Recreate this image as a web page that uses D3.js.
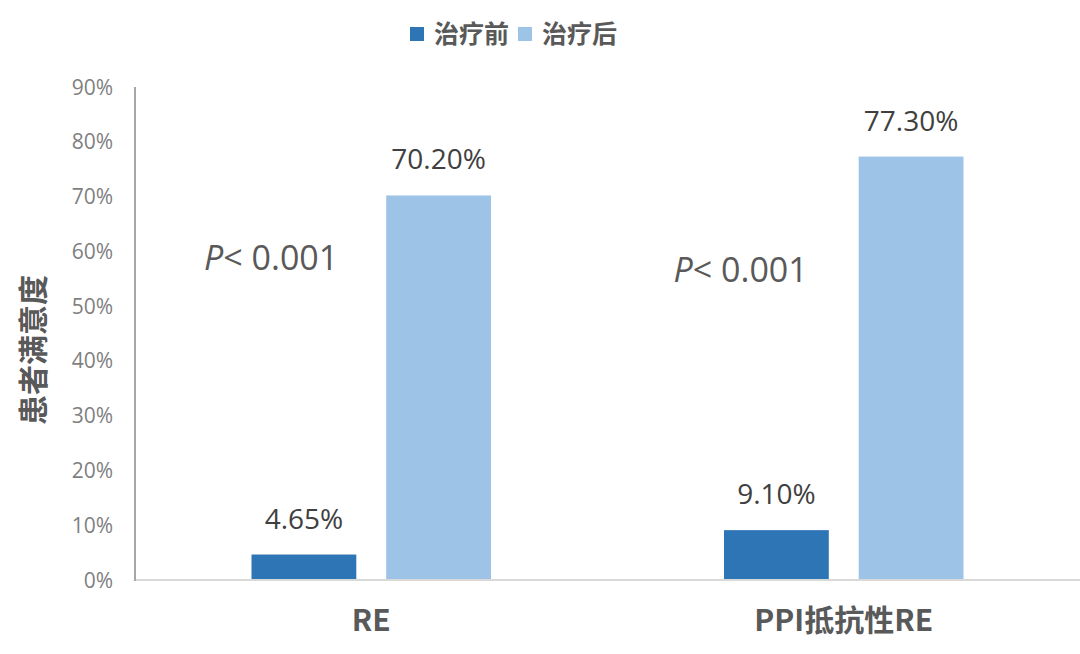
<!DOCTYPE html>
<html lang="zh">
<head>
    <meta charset="UTF-8">
    <title>患者满意度</title>
    <script src="https://d3js.org/d3.v7.min.js"></script>
    <style>
        body { margin: 0; background: #fff; }
        svg { display: block; }
        .tick-label { font-family: "Open Sans", sans-serif; font-size: 21px; fill: #7f7f7f; }
        .value-label { font-family: "Open Sans", sans-serif; font-size: 28px; fill: #404040; }
        .p-label { font-family: "Open Sans", sans-serif; font-size: 34px; fill: #595959; }
        .cat-label { font-family: "Noto Sans CJK SC", sans-serif; font-size: 30px; font-weight: bold; fill: #595959; }
        .legend-label { font-family: "Noto Sans CJK SC", sans-serif; font-size: 25px; font-weight: bold; fill: #595959; }
        .y-title { font-family: "Noto Sans CJK SC", sans-serif; font-size: 30px; font-weight: bold; fill: #595959; }
    </style>
</head>
<body>
<svg id="chart" width="1080" height="654"></svg>
<script>
    // data
    const categories = ['RE', 'PPI抵抗性RE']
    const seriesNames = ['治疗前', '治疗后']
    const before = [0.0465, 0.091]
    const after = [0.702, 0.773]
    const yTicks = [0, 0.1, 0.2, 0.3, 0.4, 0.5, 0.6, 0.7, 0.8, 0.9]
    const pTexts = ['< 0.001', '< 0.001']
    const pLevels = [0.566, 0.544]   // where the P annotations sit on the y scale

    const colors = ['#2e75b6', '#9dc3e6']
    const svg = d3.select('#chart')

    const plotLeft = 135, plotRight = 1080, plotTop = 87, plotBottom = 580

    let x0 = d3.scaleBand().domain(categories).range([plotLeft, plotRight])
    let x1 = d3.scaleBand().domain(seriesNames).range([0, x0.bandwidth()])
        .paddingInner(0.222).paddingOuter(0.865)
    let y = d3.scaleLinear().domain([0, 0.9]).range([plotBottom, plotTop])
    let color = d3.scaleOrdinal().domain(seriesNames).range(colors)

    let rows = categories.map((c, i) => ({cat: c, values: [before[i], after[i]]}))

    // y tick labels
    svg.append('g').selectAll('text')
        .data(yTicks)
        .enter()
        .append('text')
        .attr('class', 'tick-label')
        .attr('x', plotLeft - 22)
        .attr('y', d => y(d))
        .attr('dy', '0.36em')
        .attr('text-anchor', 'end')
        .text(d3.format('.0%'))

    // axis lines
    svg.append('line')
        .attr('x1', plotLeft).attr('x2', plotRight)
        .attr('y1', y(0)).attr('y2', y(0))
        .attr('stroke', '#d9d9d9').attr('stroke-width', 2)
    svg.append('line')
        .attr('x1', plotLeft).attr('x2', plotLeft)
        .attr('y1', y(0.9)).attr('y2', y(0) + 1)
        .attr('stroke', '#a6a6a6').attr('stroke-width', 2)

    // bars
    let groups = svg.append('g').selectAll('g')
        .data(rows)
        .enter()
        .append('g')
        .attr('transform', d => 'translate(' + x0(d.cat) + ',0)')

    let cells = groups.selectAll('g')
        .data(d => d.values.map((v, j) => ({name: seriesNames[j], value: v})))
        .enter()
        .append('g')

    cells.append('rect')
        .attr('x', d => x1(d.name))
        .attr('y', d => y(d.value))
        .attr('width', x1.bandwidth())
        .attr('height', d => y(0) - y(d.value) - 1)
        .attr('fill', d => color(d.name))

    cells.append('text')
        .attr('class', 'value-label')
        .attr('x', d => x1(d.name) + x1.bandwidth() / 2)
        .attr('y', d => y(d.value) - 26)
        .attr('text-anchor', 'middle')
        .text(d => d3.format('.2%')(d.value))

    // P annotations
    let pText = svg.append('g').selectAll('text')
        .data(categories)
        .enter()
        .append('text')
        .attr('class', 'p-label')
        .attr('x', (d, i) => x0(d) + (i === 0 ? 69 : 66))
        .attr('y', (d, i) => y(pLevels[i]))
    pText.append('tspan').attr('font-style', 'italic').text('P')
    pText.append('tspan').text((d, i) => pTexts[i])

    // category labels
    svg.append('g').selectAll('text')
        .data(categories)
        .enter()
        .append('text')
        .attr('class', 'cat-label')
        .attr('x', d => x0(d) + x0.bandwidth() / 2)
        .attr('y', 631)
        .attr('text-anchor', 'middle')
        .text(d => d)

    // y title
    svg.append('text')
        .attr('class', 'y-title')
        .attr('transform', 'translate(44,350) rotate(-90)')
        .attr('text-anchor', 'middle')
        .text('患者满意度')

    // legend
    let legendX = [410, 518]
    let legend = svg.append('g').selectAll('g')
        .data(seriesNames)
        .enter()
        .append('g')
        .attr('transform', (d, i) => 'translate(' + legendX[i] + ',27)')
    legend.append('rect')
        .attr('width', 14).attr('height', 14)
        .attr('fill', d => color(d))
    legend.append('text')
        .attr('class', 'legend-label')
        .attr('x', 24)
        .attr('y', 7)
        .attr('dy', '0.36em')
        .text(d => d)
</script>
</body>
</html>
